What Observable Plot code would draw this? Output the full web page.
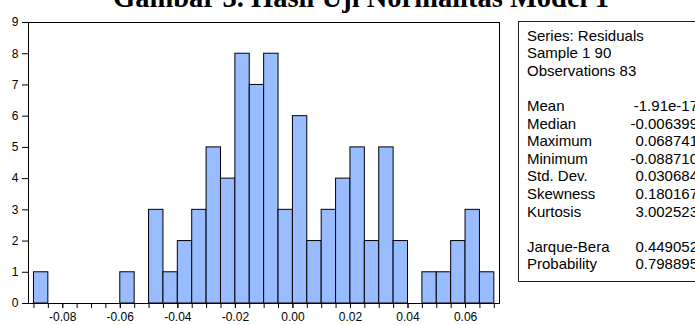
<!DOCTYPE html>
<html>
<head>
<meta charset="utf-8">
<script src="https://cdn.jsdelivr.net/npm/d3@7"></script>
<script src="https://cdn.jsdelivr.net/npm/@observablehq/plot@0.6"></script>
<style>
  html, body { margin: 0; padding: 0; background: #fff; overflow: hidden; }
  #wrap { position: relative; width: 695px; height: 325px; overflow: hidden; background: #fff; }
  #chart { position: absolute; left: 0; top: 0; }
  #title { position: absolute; left: 0; width: 722px; top: -18px; text-align: center; white-space: nowrap;
           font: bold 28.5px "Liberation Serif", "Times New Roman", serif; color: #000; }
  #stats { position: absolute; left: 518px; top: 21px; width: 220px; height: 259px; border: 1px solid #222; background: #fff;
           font: 15px "Liberation Sans", Arial, sans-serif; color: #000; }
  .row { position: absolute; left: 0; width: 100%; height: 18px; line-height: 18px; white-space: nowrap; }
  .lab { position: absolute; left: 8px; }
  .val { position: absolute; right: 41px; text-align: right; }
</style>
</head>
<body>
<div id="wrap">
  <div id="title"></div>
  <div id="chart"></div>
  <div id="stats"></div>
</div>
<script>
// ---- data ----
const titleText = "Gambar 3. Hasil Uji Normalitas Model 1";
const binLeft = [-0.090,-0.085,-0.080,-0.075,-0.070,-0.065,-0.060,-0.055,-0.050,-0.045,-0.040,-0.035,-0.030,-0.025,-0.020,-0.015,
                 -0.010,-0.005,0.000,0.005,0.010,0.015,0.020,0.025,0.030,0.035,0.040,0.045,0.050,0.055,0.060,0.065];
const counts  = [1,0,0,0,0,0,1,0,3,1,2,3,5,4,8,7,8,3,6,2,3,4,5,2,5,2,0,1,1,2,3,1];
const binWidth = 0.005;
const yTicks = [0,1,2,3,4,5,6,7,8,9];
const xMinorTicks = [...binLeft, 0.070];
const xTickLabels = [-0.08,-0.06,-0.04,-0.02,0.00,0.02,0.04,0.06];

const headerLines = ["Series: Residuals", "Sample 1 90", "Observations 83"];
const statLabels = ["Mean", "Median", "Maximum", "Minimum", "Std. Dev.", "Skewness", "Kurtosis"];
const statValues = ["-1.91e-17", "-0.006399", "0.068741", "-0.088710", "0.030684", "0.180167", "3.002523"];
const testLabels = ["Jarque-Bera", "Probability"];
const testValues = ["0.449052", "0.798895"];

// ---- table built from the arrays ----
const bins = binLeft.map((x1, i) => ({x1, x2: x1 + binWidth, count: counts[i]})).filter(d => d.count > 0);

document.getElementById("title").textContent = titleText;

const chart = Plot.plot({
  width: 695,
  height: 325,
  marginLeft: 28,
  marginRight: 196,
  marginTop: 22,
  marginBottom: 22,
  style: {background: "transparent", fontFamily: "'Liberation Sans', Arial, sans-serif", fontSize: "12px", color: "#000", overflow: "visible"},
  x: {domain: [-0.0919, 0.0718], label: null},
  y: {domain: [0, 9], label: null},
  marks: [
    Plot.rectY(bins, {x1: "x1", x2: "x2", y: "count", fill: "#99bbff", stroke: "#000", strokeWidth: 1}),
    Plot.frame({stroke: "#000", strokeWidth: 1}),
    Plot.axisY({ticks: yTicks, tickSize: 6, tickPadding: 4, tickFormat: d => String(d), label: null}),
    Plot.axisX({ticks: xMinorTicks, tickSize: 5, tickFormat: () => "", label: null}),
    Plot.axisX({ticks: xTickLabels, tickSize: 5, tickPadding: 4, tickFormat: d => d.toFixed(2), label: null})
  ]
});
document.getElementById("chart").appendChild(chart);

// ---- statistics box ----
const box = document.getElementById("stats");
const pitch = 17.6;
const firstCenter = 13.5;
function addRow(i, label, value) {
  const row = document.createElement("div");
  row.className = "row";
  row.style.top = (firstCenter + i * pitch - 9) + "px";
  const l = document.createElement("span");
  l.className = "lab";
  l.textContent = label;
  row.appendChild(l);
  if (value !== undefined) {
    const v = document.createElement("span");
    v.className = "val";
    v.textContent = value;
    row.appendChild(v);
  }
  box.appendChild(row);
}
headerLines.forEach((t, i) => addRow(i, t));
statLabels.forEach((t, i) => addRow(4 + i, t, statValues[i]));
testLabels.forEach((t, i) => addRow(12 + i, t, testValues[i]));
</script>
</body>
</html>
